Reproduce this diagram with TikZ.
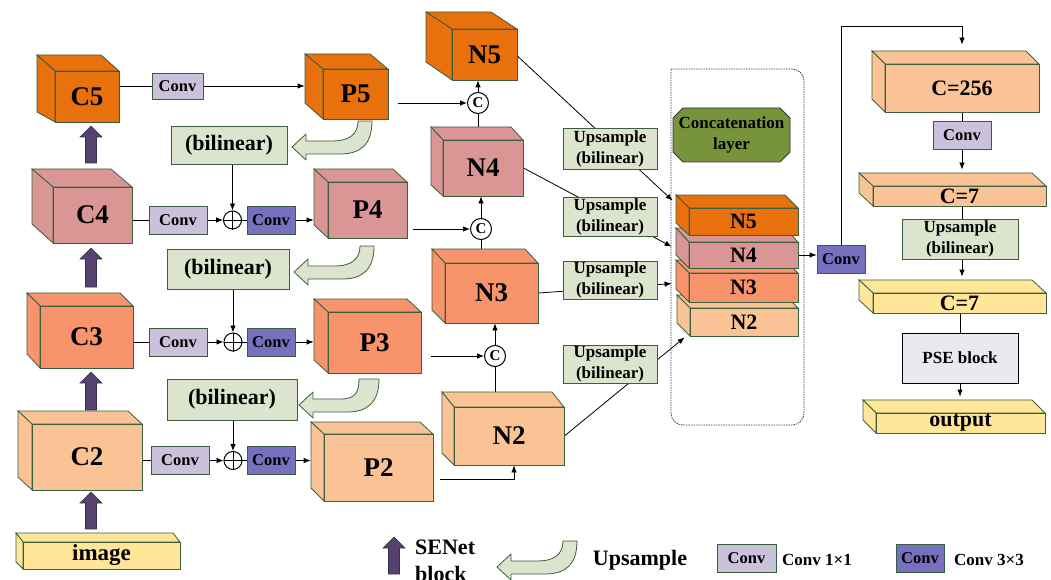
\documentclass[tikz,border=0pt]{standalone}
\usepackage{fontspec}
\setmainfont{Liberation Serif}
\usetikzlibrary{arrows.meta,calc}
\pgfdeclarelayer{bg}
\pgfsetlayers{bg,main}
\definecolor{corange}{HTML}{E8710E}
\definecolor{cpink}{HTML}{D99694}
\definecolor{csalmon}{HTML}{F7946C}
\definecolor{cpeach}{HTML}{FAC396}
\definecolor{cyellow}{HTML}{FFE699}
\definecolor{cgreen}{HTML}{DCE4CD}
\definecolor{cconvl}{HTML}{CCC1DA}
\definecolor{cconvd}{HTML}{7670BF}
\definecolor{csen}{HTML}{55436E}
\definecolor{cedge}{HTML}{3B5E3F}
\definecolor{cconcat}{HTML}{77933C}
\definecolor{cpse}{HTML}{EBE8F0}
\newcommand\fss[2]{\fontsize{#1}{#2}\selectfont\bfseries}
\tikzset{
 edge/.style={draw=cedge, line width=0.8pt},
 convl/.style={edge, fill=cconvl, inner sep=0pt, minimum width=58pt, minimum height=28pt, font=\fss{16.5}{16.5}},
 convd/.style={edge, fill=cconvd, inner sep=0pt, minimum width=48pt, minimum height=28pt, font=\fss{16.5}{16.5}},
 bil/.style={edge, fill=cgreen, inner sep=0pt, font=\fss{22}{22}},
 ups/.style={edge, fill=cgreen, inner sep=0pt, minimum width=94pt, minimum height=38pt, align=center, font=\fss{17}{21}},
 ccirc/.style={circle, draw=black, fill=white, line width=1pt, minimum size=21pt, inner sep=0pt, font=\fss{15}{15}},
 oplus/.style={circle, draw=black, line width=1pt, minimum size=18pt, inner sep=0pt},
 con/.style={line width=0.8pt, draw=black},
 arr/.style={con, -{Latex[length=7pt,width=5.5pt]}},
}
\newcommand\cub[9]{\def\cbN{#1}\def\cbC{#2}\def\cbXa{#3}\def\cbYa{#4}\def\cbXb{#5}\def\cbYb{#6}\def\cbDx{#7}\def\cbDt{#8}\def\cbDb{#9}\cubrest}
\newcommand\cubrest[2][]{%
 \filldraw[edge, fill=\cbC] (\cbXa,\cbYa) -- ({\cbXa-\cbDx},{\cbYa-\cbDt}) -- ({\cbXb-\cbDx},{\cbYa-\cbDt}) -- (\cbXb,\cbYa) -- cycle;
 \filldraw[edge, fill=\cbC] (\cbXa,\cbYa) -- ({\cbXa-\cbDx},{\cbYa-\cbDt}) -- ({\cbXa-\cbDx},{\cbYb-\cbDb}) -- (\cbXa,\cbYb) -- cycle;
 \node[edge, fill=\cbC, inner sep=0pt, minimum width={(\cbXb-\cbXa)*1pt}, minimum height={(\cbYb-\cbYa)*1pt}, font=\fss{27}{27}, #1] (\cbN) at ({(\cbXa+\cbXb)/2},{(\cbYa+\cbYb)/2}) {#2};%
}
\newcommand\upar[3]{%
 \filldraw[edge, fill=cgreen, line join=round] (#1,#2) .. controls (#1,{#2+24}) and ({#1-12},{#2+33}) .. ({#1-32},{#2+33}) -- ({#1-66},{#2+33}) -- ({#1-66},{#2+39}) -- ({#1-80},{#2+26}) -- ({#1-66},{#2+13}) -- ({#1-66},{#2+20}) -- ({#1-39},{#2+20}) .. controls ({#1-24},{#2+20}) and ({#1-#3},{#2+14}) .. ({#1-#3},#2) -- cycle;}
\newcommand\senet[3]{%
 \filldraw[draw=csen!70!black, line width=0.6pt, fill=csen] (#1,#2) -- ({#1+11},{#2+11}) -- ({#1+5.5},{#2+11}) -- ({#1+5.5},#3) -- ({#1-5.5},#3) -- ({#1-5.5},{#2+11}) -- ({#1-11},{#2+11}) -- cycle;}
\begin{document}
\begin{tikzpicture}[x=1pt,y=-1pt]
\useasboundingbox (0,0) rectangle (1051,580);
% backbone
\cub{C5}{corange}{55}{71}{119}{122}{18}{16}{10}{C5}
\cub{C4}{cpink}{53}{187}{132}{243}{21}{18}{19}{C4}
\cub{C3}{csalmon}{40}{306}{133}{368}{13}{13}{14}{C3}
\cub{C2}{cpeach}{32}{424}{142}{490}{14}{13}{13}{C2}
\cub{img}{cyellow}{23}{542}{180}{569}{7}{9}{7}[font=\fss{23}{23}]{image}
\senet{91}{126}{163}
\senet{91}{248}{287}
\senet{91}{372}{410}
\senet{91}{492}{529}
% FPN
\cub{P5}{corange}{323}{69}{388}{119}{18}{15}{16}{P5}
\cub{P4}{cpink}{328}{182}{407}{238}{14}{13}{13}{P4}
\cub{P3}{csalmon}{328}{312}{421}{373}{14}{13}{13}{P3}
\cub{P2}{cpeach}{324}{434}{433}{501}{13}{12}{13}{P2}
\node[convl, minimum width=51pt, minimum height=26pt] (cv5) at (177.5,86) {Conv};
\node[convl] (cv4a) at (178,220) {Conv};
\node[convd] (cv4b) at (271,220) {Conv};
\node[convl] (cv3a) at (178,342) {Conv};
\node[convd] (cv3b) at (271,342) {Conv};
\node[convl] (cv2a) at (180,460.5) {Conv};
\node[convd] (cv2b) at (271,460.5) {Conv};
\node[oplus] (op4) at (232.5,220) {};
\node[oplus] (op3) at (233,342) {};
\node[oplus] (op2) at (233,460.5) {};
\foreach \o in {op4,op3,op2}{\draw[line width=1pt] (\o.north) -- (\o.south) (\o.west) -- (\o.east);}
\node[bil, minimum width=116pt, minimum height=38pt] (b5) at (229,145) {(bilinear)};
\node[bil, minimum width=122pt, minimum height=40pt] (b4) at (228,269) {(bilinear)};
\node[bil, minimum width=130pt, minimum height=41pt] (b3) at (232,399.5) {(bilinear)};
\upar{372}{121}{14}
\upar{374}{246}{14}
\upar{379}{379}{20}
% PAN
\cub{N5}{corange}{452}{29}{517}{80}{26}{17}{18}{N5}
\cub{N4}{cpink}{443}{140}{523}{196}{12}{13}{11}{N4}
\cub{N3}{csalmon}{445}{263}{538}{323}{13}{14}{13}{N3}
\cub{N2}{cpeach}{454}{407}{564}{465}{12}{15}{12}{N2}
\node[ccirc] (cc5) at (478,103) {C};
\node[ccirc] (cc4) at (481,229) {C};
\node[ccirc] (cc3) at (495,356) {C};
\node[ups, minimum height=41pt] (u1) at (610,148.5) {Upsample\\(bilinear)};
\node[ups, minimum height=39pt] (u2) at (610,216.5) {Upsample\\(bilinear)};
\node[ups] (u3) at (610,280) {Upsample\\(bilinear)};
\node[ups] (u4) at (610,364) {Upsample\\(bilinear)};
% concatenation
\filldraw[draw=black!80, line width=0.8pt, fill=cconcat] (683,108) -- (780,108) -- (790,118) -- (790,152) -- (780,162) -- (683,162) -- (673,152) -- (673,118) -- cycle;
\node[minimum width=117pt, minimum height=54pt, inner sep=0pt, align=center, font=\fss{17}{21}] (cat) at (731.5,135) {Concatenation\\layer};
\cub{S2}{cpeach}{690}{308}{798}{336}{13}{13}{13}[font=\fss{22}{22}]{N2}
\cub{S3}{csalmon}{689}{273}{798}{302}{13}{13}{13}[font=\fss{22}{22}]{N3}
\cub{S4}{cpink}{689}{242}{798}{268}{13}{14}{13}[font=\fss{22}{22}]{N4}
\cub{S5}{corange}{689}{208}{798}{235}{13}{13}{12}[font=\fss{22}{22}]{N5}
\node[convd] (cvR) at (841,259) {Conv};
% head
\cub{C256}{cpeach}{885}{64}{1039}{112}{13}{13}{13}[font=\fss{22}{22}]{C=256}
\node[convl] (cv2) at (962,135) {Conv};
\cub{C7a}{cpeach}{873}{186}{1046}{206}{14}{13}{13}[font=\fss{22}{22}]{C=7}
\node[ups, minimum width=116pt, minimum height=40pt] (ur) at (960,239) {Upsample\\(bilinear)};
\cub{C7b}{cyellow}{873}{293}{1046}{313}{14}{13}{13}[font=\fss{22}{22}]{C=7}
\node[draw=black, line width=0.8pt, fill=cpse, minimum width=116pt, minimum height=50pt, inner sep=0pt, font=\fss{17}{17}] (pse) at (960,358) {PSE block};
\cub{outp}{cyellow}{876}{413}{1045}{433}{13}{13}{13}[font=\fss{22}{22}]{output}
% legend
\senet{394}{537}{574}
\node[anchor=north west, align=left, inner sep=0pt, font=\fss{22}{27}] (sentxt) at (415,540) {SENet\\block};
\upar{577}{541}{14}
\node[inner sep=0pt, font=\fss{22}{22}] (uptxt) at (640,560) {Upsample};
\node[convl, minimum width=59pt] (leg1) at (746.5,558) {Conv};
\node[anchor=west, inner sep=0pt, font=\fss{17}{17}] (leg1t) at (782,560) {Conv 1×1};
\node[convd] (leg3) at (920,558) {Conv};
\node[anchor=west, inner sep=0pt, font=\fss{17}{17}] (leg3t) at (954,560) {Conv 3×3};
% connectors
\begin{pgfonlayer}{bg}
\draw[black!75, line width=0.8pt, dash pattern=on 1.5pt off 1pt, rounded corners=12pt] (671,69) -- (804,69) -- (804,425) -- (671,425) -- (671,69);
\path ([xshift=-18pt]P5.west) coordinate (p5in);
\path ([xshift=-14pt]P4.west) coordinate (p4in);
\path ([xshift=-14pt]P3.west) coordinate (p3in);
\path ([xshift=-13pt]P2.west) coordinate (p2in);
\draw[con] (cv5.west) -- (cv5.west -| C5.east);
\draw[arr] (cv5.east) -- (cv5.east -| p5in);
\draw[con] (C4.east |- cv4a.west) -- (cv4a.west);
\draw[arr] (cv4a.east) -- (op4.west);
\draw[con] (op4.east) -- (cv4b.west);
\draw[arr] (cv4b.east) -- (cv4b.east -| p4in);
\draw[arr] (b5.south -| op4.north) -- (op4.north);
\draw[con] (C3.east |- cv3a.west) -- (cv3a.west);
\draw[arr] (cv3a.east) -- (op3.west);
\draw[con] (op3.east) -- (cv3b.west);
\draw[arr] (cv3b.east) -- (cv3b.east -| p3in);
\draw[arr] (b4.south -| op3.north) -- (op3.north);
\draw[con] (C2.east |- cv2a.west) -- (cv2a.west);
\draw[arr] (cv2a.east) -- (op2.west);
\draw[con] (op2.east) -- (cv2b.west);
\draw[arr] (cv2b.east) -- (cv2b.east -| p2in);
\draw[arr] (b3.south -| op2.north) -- (op2.north);
\path ([xshift=10pt]P5.east) coordinate (p5o);
\path ([xshift=6pt]P4.east) coordinate (p4o);
\path ([xshift=10pt]P3.east) coordinate (p3o);
\path ([xshift=7pt,yshift=-11.5pt]P2.east) coordinate (p2o);
\path ([xshift=5pt]N2.south) coordinate (n2in);
\draw[arr] (p5o |- cc5) -- (cc5.west);
\draw[arr] (p4o |- cc4) -- (cc4.west);
\draw[arr] (p3o |- cc3) -- (cc3.west);
\draw[arr] (p2o) -| (n2in);
\draw[con] (cc5.south) -- (cc5.south |- N4.north);
\draw[arr] (cc5.north) -- (cc5.north |- N5.south);
\draw[con] (cc4.south) -- (cc4.south |- N3.north);
\draw[arr] (cc4.north) -- (cc4.north |- N4.south);
\draw[con] (cc3.south) -- (cc3.south |- N2.north);
\draw[arr] (cc3.north) -- (cc3.north |- N3.south);
\path ([xshift=-16pt,yshift=7pt]S5.north west) coordinate (t5);
\path ([xshift=-17pt,yshift=-5pt]S4.north west) coordinate (t4);
\path ([xshift=-17pt,yshift=-11pt]S3.north west) coordinate (t3);
\path ([xshift=-5pt,yshift=-1pt]S2.south west) coordinate (t2);
\draw[arr] ([yshift=-1.5pt]N5.east) -- (t5);
\draw[arr] (N4.east) -- (t4);
\draw[arr] (N3.east) -- (t3);
\draw[arr] (N2.east) -- (t2);
\draw[arr] (S4.east) -- (S4.east -| cvR.west);
\draw[arr] (cvR.north) |- ([yshift=37pt]C256.north) -- ([yshift=19pt]C256.north);
\draw[con] (C256.south) -- (C256.south |- cv2.north);
\draw[arr] (cv2.south) -- ([yshift=16pt]cv2.south |- C7a.north);
\draw[con] (cv2.south |- C7a.south) -- (cv2.south |- ur.north);
\draw[arr] (cv2.south |- ur.south) -- ([yshift=16pt]cv2.south |- C7b.north);
\draw[con] (pse.north |- C7b.south) -- (pse.north);
\draw[arr] (pse.south) -- ([yshift=16pt]pse.south |- outp.north);
\end{pgfonlayer}
\end{tikzpicture}
\end{document}
